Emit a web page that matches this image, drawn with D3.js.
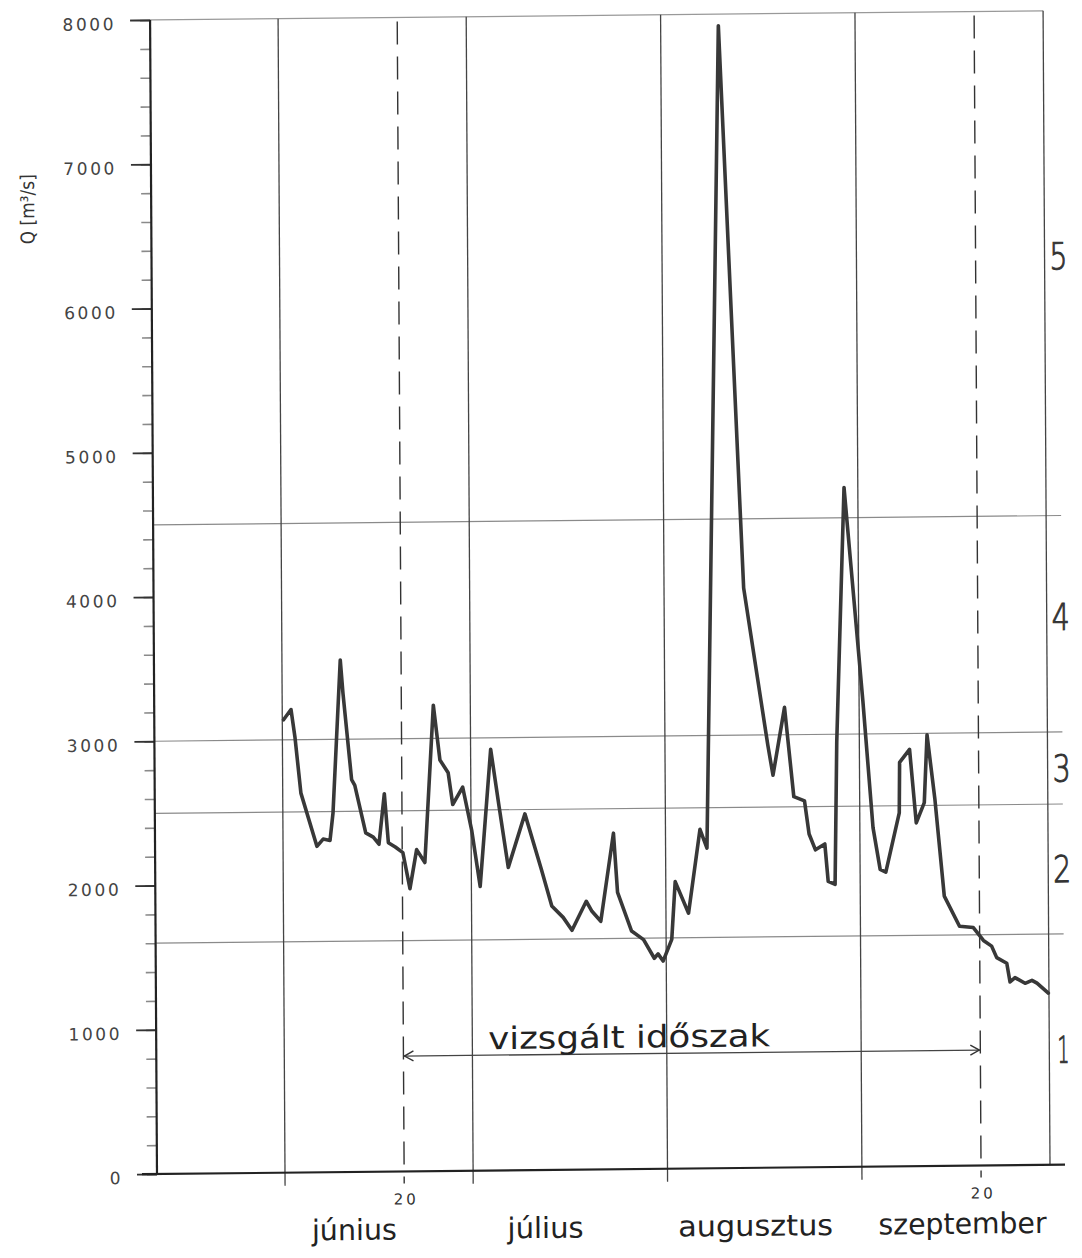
<!DOCTYPE html>
<html><head><meta charset="utf-8">
<script src="https://cdn.jsdelivr.net/npm/d3@7"></script>
<style>html,body{margin:0;padding:0;background:#fff}</style>
</head><body>
<svg id="c" width="1082" height="1258"></svg>
<script>
// ---------------- data ----------------
const EV = 1980; // year is not shown on the chart
const honapok = ["június", "július", "augusztus", "szeptember"];
const honapHatarok = ["06-01", "07-01", "08-01", "09-01", "10-01"];
const szaggatottNapok = ["06-20", "09-20"];
const szaggatottCimke = ["20", "20"];
// days after 1 June (00:00) of each drawn vertex
const napok = [0.2, 1.4, 2.0, 2.9, 5.4, 6.4, 7.5, 8.0, 9.3, 9.7,
  11.0, 11.5, 13.2, 14.4, 15.3, 16.2, 16.8, 17.9, 19.1, 20.2,
  21.3, 22.6, 24.1, 25.1, 26.4, 27.1, 28.7, 30.1, 31.4, 33.2,
  34.5, 35.9, 38.6, 41.2, 42.8, 44.6, 46.0, 48.3, 49.2, 50.6,
  52.7, 53.3, 55.5, 57.4, 59.1, 59.7, 60.5, 61.9, 62.5, 64.6,
  66.5, 67.6, 70.2, 73.7, 77.4, 78.2, 80.1, 81.5, 83.2, 83.9,
  84.9, 86.4, 86.9, 88.0, 88.4, 89.8, 92.6, 94.1, 95.2, 96.1,
  98.3, 98.4, 100.0, 101.0, 102.3, 102.8, 104.0, 105.4, 107.8, 110.0,
  111.6, 112.9, 113.7, 115.3, 115.8, 116.6, 118.2, 119.3, 120.1, 121.9];
// discharge Q [m3/s]
const Q = [3140, 3210, 3020, 2630, 2260, 2310, 2300, 2490, 3550, 3320,
  2720, 2680, 2350, 2320, 2270, 2620, 2280, 2250, 2210, 1960,
  2230, 2140, 3230, 2850, 2760, 2540, 2660, 2360, 1970, 2920,
  2520, 2100, 2470, 2080, 1830, 1750, 1660, 1860, 1790, 1720,
  2330, 1920, 1650, 1590, 1460, 1490, 1440, 1590, 1990, 1770,
  2350, 2220, 7920, 4020, 2930, 2720, 3190, 2570, 2540, 2310,
  2200, 2240, 1980, 1960, 2950, 4710, 3230, 2350, 2060, 2040,
  2450, 2800, 2890, 2380, 2520, 2990, 2540, 1870, 1660, 1650,
  1560, 1520, 1440, 1400, 1270, 1300, 1260, 1280, 1260, 1190];
const kuszobok = [1600, 2500, 3000, 4500];
const zonaCimkek = ["1", "2", "3", "4", "5"];
const zonaErtekek = [800, 2050, 2750, 3800, 6300];
const fokTicks = d3.range(0, 8001, 1000);
const kisTicks = d3.range(0, 8001, 200);
const yCim = "Q [m³/s]";
const idoszakCim = "vizsgált időszak";
const idoszakErtek = 800;

// ---------------- layout ----------------
const X0 = 157, Y0 = 1174;
const nap = s => d3.utcParse("%Y-%m-%d")(EV + "-" + s);
const jun1 = nap("06-01");
const napDatum = d => new Date(+jun1 + d * 864e5);

const x = d3.scaleUtc().domain([nap("06-01"), nap("10-01")]).range([285, 1050]);
const y = d3.scaleLinear().domain([0, 8000]).range([Y0, 20]);
const xEnd = 1065;

const svg = d3.select("#c");
const g = svg.append("g")
  .attr("transform", `translate(${X0},${Y0}) matrix(1,-0.0103,0.006,1,0,0) translate(${-X0},${-Y0})`);
const FONT = "DejaVu Sans, Liberation Sans, sans-serif";

// top frame line
g.append("line").attr("x1", 137).attr("x2", x(nap("10-01")))
  .attr("y1", y(8000)).attr("y2", y(8000))
  .attr("stroke", "#999").attr("stroke-width", 1.2);

// threshold lines
g.selectAll("line.kusz").data(kuszobok).join("line").attr("class", "kusz")
  .attr("x1", X0).attr("x2", xEnd)
  .attr("y1", d => y(d)).attr("y2", d => y(d))
  .attr("stroke", "#8a8a8a").attr("stroke-width", 1.2);

// month boundary lines
g.selectAll("line.ho").data(honapHatarok).join("line").attr("class", "ho")
  .attr("x1", d => x(nap(d))).attr("x2", d => x(nap(d)))
  .attr("y1", y(8000)).attr("y2", d => d === "10-01" ? Y0 : Y0 + 13)
  .attr("stroke", "#444").attr("stroke-width", 1.3);

// dashed lines (20th)
g.selectAll("line.sz").data(szaggatottNapok).join("line").attr("class", "sz")
  .attr("x1", d => x(nap(d))).attr("x2", d => x(nap(d)))
  .attr("y1", y(8000) + 4).attr("y2", Y0 + 12)
  .attr("stroke", "#333").attr("stroke-width", 1.4)
  .attr("stroke-dasharray", "23,12");

g.selectAll("text.sz").data(szaggatottNapok).join("text").attr("class", "sz")
  .attr("x", d => x(nap(d)) + 2).attr("y", Y0 + 33)
  .attr("text-anchor", "middle").attr("font-family", FONT)
  .attr("font-size", 15).attr("letter-spacing", 3).attr("fill", "#333")
  .text((d, i) => szaggatottCimke[i]);

// y axis: minor ticks
const minor = d3.axisLeft(y).tickValues(kisTicks).tickSize(10).tickFormat("");
const gm = g.append("g").attr("transform", `translate(${X0},0)`).call(minor);
gm.select(".domain").remove();
gm.selectAll(".tick line").attr("stroke", "#8a8a8a").attr("stroke-width", 1.6);

// y axis: major ticks + labels
const major = d3.axisLeft(y).tickValues(fokTicks).tickSize(20).tickPadding(14)
  .tickFormat(d3.format("d"));
const gM = g.append("g").attr("transform", `translate(${X0},0)`).call(major);
gM.select(".domain").remove();
gM.selectAll(".tick line").attr("stroke", "#333").attr("stroke-width", 1.8);
gM.selectAll(".tick text").attr("font-family", FONT).attr("font-size", 17)
  .attr("letter-spacing", 2.6).attr("fill", "#444").attr("dy", "0.55em");

// axis lines
g.append("line").attr("x1", X0).attr("x2", X0).attr("y1", Y0).attr("y2", y(8000))
  .attr("stroke", "#222").attr("stroke-width", 2.2);
g.append("line").attr("x1", 142).attr("x2", xEnd).attr("y1", Y0).attr("y2", Y0)
  .attr("stroke", "#222").attr("stroke-width", 2.2);

// y title
g.append("text").attr("transform", `translate(40,208) rotate(-90)`)
  .attr("text-anchor", "middle").attr("font-family", FONT).attr("font-size", 19)
  .attr("fill", "#333").attr("textLength", 70).attr("lengthAdjust", "spacingAndGlyphs")
  .text(yCim);

// discharge curve
const pts = napok.map((d, i) => ({ t: napDatum(d), v: Q[i] }));
g.append("path").datum(pts)
  .attr("d", d3.line().x(d => x(d.t)).y(d => y(d.v)))
  .attr("fill", "none").attr("stroke", "#383838").attr("stroke-width", 3.6)
  .attr("stroke-linejoin", "round").attr("stroke-linecap", "round");

// study-period arrow
const ax1 = x(nap(szaggatottNapok[0])), ax2 = x(nap(szaggatottNapok[1])), ay = y(idoszakErtek);
g.append("line").attr("x1", ax1).attr("x2", ax2).attr("y1", ay).attr("y2", ay)
  .attr("stroke", "#444").attr("stroke-width", 1.3);
g.append("path").attr("d", `M${ax1 + 10},${ay - 5}L${ax1 + 1},${ay}L${ax1 + 10},${ay + 5}`)
  .attr("fill", "none").attr("stroke", "#333").attr("stroke-width", 1.4);
g.append("path").attr("d", `M${ax2 - 10},${ay - 5}L${ax2 - 1},${ay}L${ax2 - 10},${ay + 5}`)
  .attr("fill", "none").attr("stroke", "#333").attr("stroke-width", 1.4);
g.append("text").attr("x", x(nap("07-26"))).attr("y", ay - 6)
  .attr("text-anchor", "middle").attr("font-family", FONT).attr("font-size", 31)
  .attr("fill", "#222").attr("textLength", 282).attr("lengthAdjust", "spacingAndGlyphs")
  .text(idoszakCim);

// month labels
const honapKozep = [11, 41.5, 75, 108];
const honapSzel = [85, 76, 155, 168];
g.selectAll("text.ho").data(honapok).join("text").attr("class", "ho")
  .attr("x", (d, i) => x(napDatum(honapKozep[i]))).attr("y", Y0 + 68)
  .attr("text-anchor", "middle").attr("font-family", FONT).attr("font-size", 29)
  .attr("fill", "#222").attr("textLength", (d, i) => honapSzel[i])
  .attr("lengthAdjust", "spacingAndGlyphs").text(d => d);

// zone labels
g.selectAll("text.zona").data(zonaCimkek).join("text").attr("class", "zona")
  .attr("x", 1064).attr("y", (d, i) => y(zonaErtekek[i]))
  .attr("dy", "0.36em").attr("text-anchor", "middle")
  .attr("font-family", FONT).attr("font-size", 37).attr("font-weight", 200)
  .attr("fill", "#333").attr("stroke", "#333").attr("stroke-width", 1)
  .attr("textLength", d => d === "1" ? 12 : 18).attr("lengthAdjust", "spacingAndGlyphs")
  .text(d => d);
</script>
</body></html>
